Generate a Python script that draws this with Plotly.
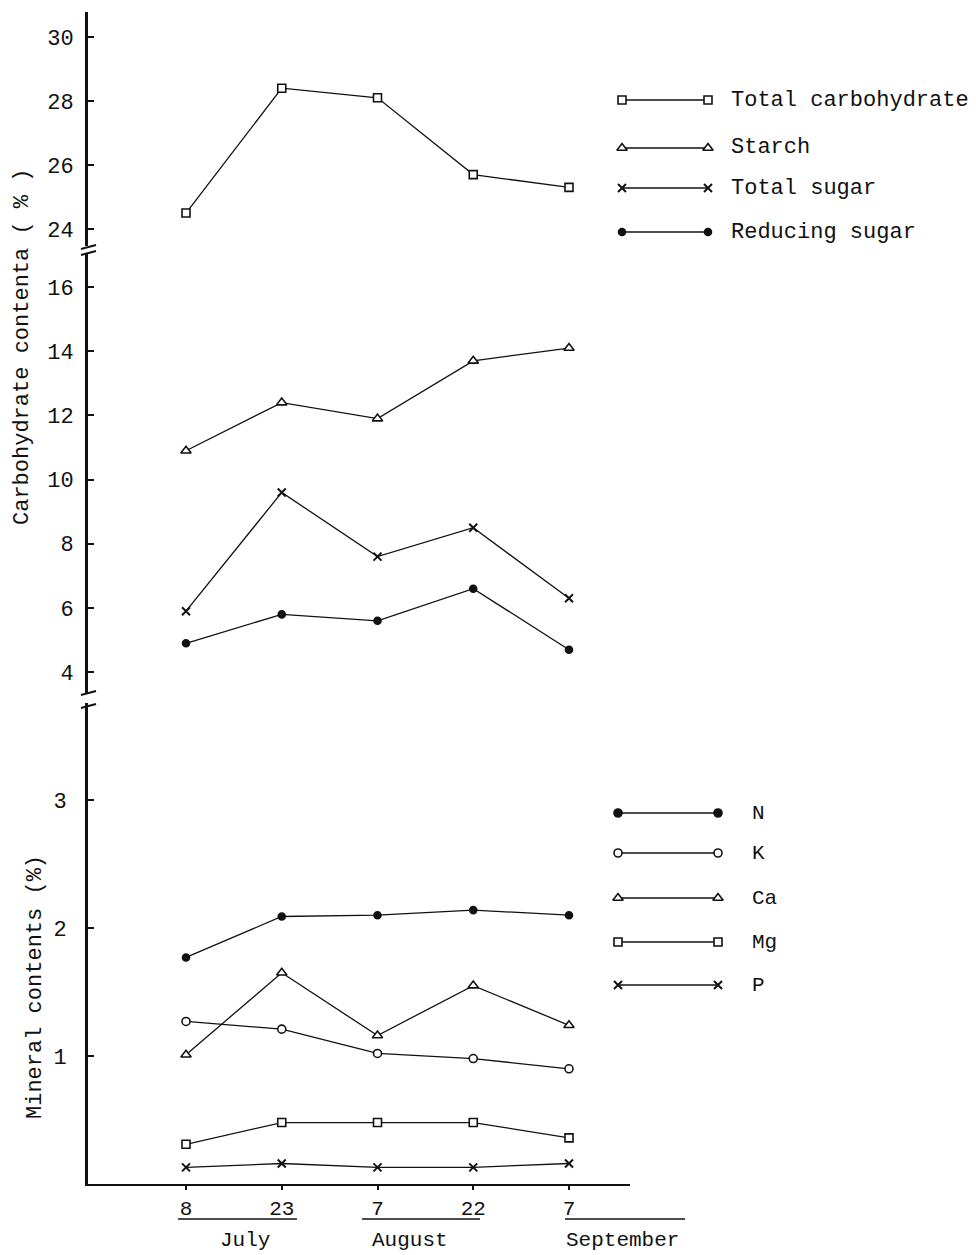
import plotly.graph_objects as go

# ---------------- data ----------------
dates = ["8", "23", "7", "22", "7"]
months = ["July", "August", "September"]
xpos = [0, 1, 2, 3, 4]

total_carbohydrate = [24.5, 28.4, 28.1, 25.7, 25.3]
starch = [10.9, 12.4, 11.9, 13.7, 14.1]
total_sugar = [5.9, 9.6, 7.6, 8.5, 6.3]
reducing_sugar = [4.9, 5.8, 5.6, 6.6, 4.7]

mineral_N = [1.77, 2.09, 2.10, 2.14, 2.10]
mineral_K = [1.27, 1.21, 1.02, 0.98, 0.90]
mineral_Ca = [1.01, 1.65, 1.16, 1.55, 1.24]
mineral_Mg = [0.31, 0.48, 0.48, 0.48, 0.36]
mineral_P = [0.13, 0.16, 0.13, 0.13, 0.16]

carb_ticks = [24, 26, 28, 30]
mid_ticks = [4, 6, 8, 10, 12, 14, 16]
min_ticks = [1, 2, 3]

# ---------------- layout helpers ----------------
W, H = 976, 1255
FONT = "Liberation Mono, Courier New, monospace"
INK = "#111111"


def px(x):
    return x / W


def py(y):
    return 1 - y / H


X0, X1 = 88, 630          # plot left/right in pixels
XP0, XSTEP = 186, 95.75   # pixel of first date, pixel step
xr = [(X0 - XP0) / XSTEP, (X1 - XP0) / XSTEP]

fig = go.Figure()

line_style = dict(color=INK, width=1.3)


def add(y, yaxis, symbol, size, fill="white", mlw=1.6):
    fig.add_trace(go.Scatter(
        x=xpos, y=y, xaxis="x", yaxis=yaxis, mode="lines+markers",
        line=line_style,
        marker=dict(symbol=symbol, size=size, color=fill,
                    line=dict(color=INK, width=mlw)),
        showlegend=False, hoverinfo="skip"))


add(total_carbohydrate, "y", "square", 8)
add(starch, "y2", "triangle-up", 9)
add(total_sugar, "y2", "x-thin", 8, fill=INK, mlw=2)
add(reducing_sugar, "y2", "circle", 7, fill=INK)

add(mineral_N, "y3", "circle", 7, fill=INK)
add(mineral_K, "y3", "circle", 8)
add(mineral_Ca, "y3", "triangle-up", 9)
add(mineral_Mg, "y3", "square", 8)
add(mineral_P, "y3", "x-thin", 8, fill=INK, mlw=2)

# ---------------- custom legends (full-page axis in pixel units) ----------------
carb_leg = [("Total carbohydrate", "square", 8, "white", 1.6),
            ("Starch", "triangle-up", 9, "white", 1.6),
            ("Total sugar", "x-thin", 8, INK, 2),
            ("Reducing sugar", "circle", 7, INK, 1.6)]
carb_leg_y = [100, 148, 188, 232]
min_leg = [("N", "circle", 8, INK, 1.6),
           ("K", "circle", 8, "white", 1.6),
           ("Ca", "triangle-up", 9, "white", 1.6),
           ("Mg", "square", 8, "white", 1.6),
           ("P", "x-thin", 8, INK, 2)]
min_leg_y = [813, 853, 898, 942, 985]

annotations = []
shapes = []


def legend_rows(items, ys, xa, xb, xt, fsize):
    for (name, sym, size, fill, mlw), yy in zip(items, ys):
        fig.add_trace(go.Scatter(
            x=[xa, xb], y=[yy, yy], xaxis="x3", yaxis="y4",
            mode="lines+markers", line=line_style,
            marker=dict(symbol=sym, size=size, color=fill,
                        line=dict(color=INK, width=mlw)),
            showlegend=False, hoverinfo="skip", cliponaxis=False))
        annotations.append(dict(
            x=px(xt), y=py(yy), xref="paper", yref="paper", text=name,
            showarrow=False, xanchor="left", yanchor="middle",
            font=dict(family=FONT, size=fsize, color=INK)))


legend_rows(carb_leg, carb_leg_y, 622, 708, 729, 22)
legend_rows(min_leg, min_leg_y, 618, 718, 750, 21)

# ---------------- axis titles, months ----------------
annotations.append(dict(
    x=px(22), y=py(347), xref="paper", yref="paper",
    xanchor="center", yanchor="middle",
    text="Carbohydrate contenta ( % )", textangle=-90, showarrow=False,
    font=dict(family=FONT, size=22, color=INK)))
annotations.append(dict(
    x=px(35), y=py(987), xref="paper", yref="paper",
    xanchor="center", yanchor="middle",
    text="Mineral contents (%)", textangle=-90, showarrow=False,
    font=dict(family=FONT, size=22, color=INK)))

month_x = [245, 410, 622]
month_lines = [(178, 297), (362, 480), (565, 685)]
for m, mx, (a, b) in zip(months, month_x, month_lines):
    annotations.append(dict(
        x=px(mx), y=py(1240), xref="paper", yref="paper", text=m,
        xanchor="center", yanchor="middle",
        showarrow=False, font=dict(family=FONT, size=21, color=INK)))
    shapes.append(dict(type="line", xref="paper", yref="paper",
                       x0=px(a), x1=px(b), y0=py(1219), y1=py(1219),
                       line=dict(color=INK, width=1.5)))

# axis break marks
for yy in [247, 253, 693, 706]:
    shapes.append(dict(type="line", xref="paper", yref="paper",
                       x0=px(81), x1=px(96), y0=py(yy + 2), y1=py(yy - 2),
                       line=dict(color=INK, width=2)))

yax_common = dict(showgrid=False, zeroline=False, showline=True,
                  linecolor=INK, linewidth=3, ticks="inside", ticklen=6,
                  tickwidth=2, tickcolor=INK, anchor="x",
                  tickfont=dict(family=FONT, size=22, color=INK))

fig.update_layout(
    width=W, height=H, autosize=False,
    margin=dict(l=0, r=0, t=0, b=0, autoexpand=False),
    paper_bgcolor="white", plot_bgcolor="rgba(0,0,0,0)",
    font=dict(family=FONT, color=INK),
    xaxis=dict(domain=[px(X0), px(X1)], range=xr, anchor="y3",
               showgrid=False, zeroline=False, showline=True,
               linecolor=INK, linewidth=2, ticks="outside", ticklen=4,
               tickwidth=2, tickcolor=INK, tickvals=xpos, ticktext=dates,
               tickfont=dict(family=FONT, size=21, color=INK)),
    xaxis2=dict(overlaying="x", anchor="free", position=py(740),
                side="top", range=xr, showgrid=False, zeroline=False,
                showline=True, linecolor=INK, linewidth=2,
                ticks="outside", ticklen=6, tickwidth=2, tickcolor=INK,
                tickvals=xpos, showticklabels=False),
    xaxis3=dict(domain=[0, 1], range=[0, W], visible=False, anchor="y4"),
    yaxis=dict(domain=[py(246), py(12)], range=[23.47, 30.78],
               tickvals=carb_ticks, ticklabelstandoff=7, **yax_common),
    yaxis2=dict(domain=[py(693), py(254)], range=[3.35, 17.03],
                tickvals=mid_ticks, ticklabelstandoff=7, **yax_common),
    yaxis3=dict(domain=[py(1184), py(703)], range=[0, 3.758],
                tickvals=min_ticks, ticklabelstandoff=14, **yax_common),
    yaxis4=dict(domain=[0, 1], range=[H, 0], visible=False, anchor="x3"),
    annotations=annotations,
    shapes=shapes,
)

fig.write_html("out.html",
               config={"displayModeBar": False, "staticPlot": True},
               post_script="document.body.style.margin='0';"
                           "document.body.style.overflow='hidden';")
